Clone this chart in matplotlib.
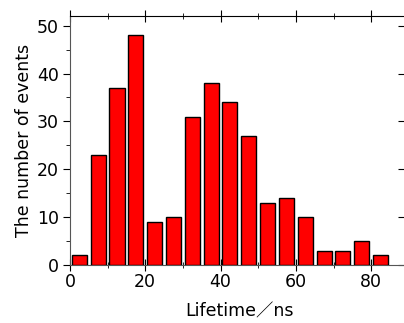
import matplotlib.pyplot as plt
from matplotlib.ticker import MultipleLocator

plt.rcParams['font.family'] = ['DejaVu Sans', 'Noto Sans CJK JP']

bin_centers = [2.5, 7.5, 12.5, 17.5, 22.5, 27.5, 32.5, 37.5, 42.5,
               47.5, 52.5, 57.5, 62.5, 67.5, 72.5, 77.5, 82.5]
counts = [2, 23, 37, 48, 9, 10, 31, 38, 34, 27, 13, 14, 10, 3, 3, 5, 2]


def main():
    fig = plt.figure(figsize=(4.04, 3.23), dpi=100)
    ax = fig.add_axes([0.173, 0.180, 1.012 - 0.173, 0.950 - 0.180])

    ax.bar(bin_centers, counts, width=4.0, color="#ff0000",
           edgecolor="black", linewidth=1.0, zorder=3)

    ax.set_xlim(0, 90)
    ax.set_ylim(0, 52)
    ax.xaxis.set_minor_locator(MultipleLocator(10))
    ax.yaxis.set_major_locator(MultipleLocator(10))
    ax.yaxis.set_minor_locator(MultipleLocator(5))
    ax.set_xticks([0, 20, 40, 60, 80])

    ax.tick_params(axis="x", which="major", direction="inout", length=8,
                   top=True, labelsize=12.5, pad=2)
    ax.tick_params(axis="x", which="minor", direction="inout", length=5,
                   top=True)
    ax.tick_params(axis="y", which="major", direction="out", length=5,
                   labelsize=12.5, pad=3)
    ax.tick_params(axis="y", which="minor", direction="out", length=3)

    # faint ticks of the (cropped) right axis
    ax.tick_params(axis="y", which="major", right=True)
    for t in ax.yaxis.get_major_ticks():
        t.tick2line.set_marker(0)
        t.tick2line.set_markersize(8)
        t.tick2line.set_color("#777777")

    for side in ["left", "bottom"]:
        ax.spines[side].set_color("#555555")
    ax.spines["top"].set_color("black")
    ax.spines["right"].set_visible(False)

    ax.set_xlabel("Lifetime／ns", fontsize=12.5, labelpad=8)
    ax.set_ylabel("The number of events", fontsize=12.5, labelpad=3)

    fig.savefig("out.png", dpi=100)


if __name__ == "__main__":
    main()
